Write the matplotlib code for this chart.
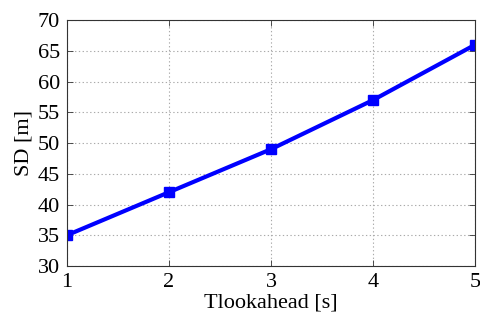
import matplotlib
matplotlib.use("Agg")
import matplotlib.pyplot as plt

plt.rcParams['font.family'] = ['Liberation Serif', 'DejaVu Serif']
plt.rcParams['mathtext.fontset'] = 'stix'

lookahead = [1, 2, 3, 4, 5]
sd = [35, 42, 49, 57, 66]
x_ticks = [1, 2, 3, 4, 5]
y_ticks = [30, 35, 40, 45, 50, 55, 60, 65, 70]

fig = plt.figure(figsize=(4.81, 3.24), dpi=100)
ax = fig.add_axes([0.139, 0.179, 0.849, 0.759])

ax.plot(lookahead, sd, color='#0000ff', linewidth=3, marker='s', markersize=7)

ax.set_xlim(1, 5)
ax.set_ylim(30, 70)
ax.set_xticks(x_ticks)
ax.set_yticks(y_ticks)
ax.grid(True, linestyle=(0, (1.2, 2.2)), color='#aaaaaa', linewidth=0.8)
ax.tick_params(direction='in', length=4, width=0.6, colors='#333333',
               labelcolor='black', labelsize=16, pad=5)
ax.tick_params(top=True, right=True)
for s in ax.spines.values():
    s.set_color('#333333')
    s.set_linewidth(0.8)

ax.set_xlabel('Tlookahead [s]', fontsize=16, labelpad=1)
ax.set_ylabel('SD [m]', fontsize=16, labelpad=3)

fig.savefig('out.png', dpi=100)
